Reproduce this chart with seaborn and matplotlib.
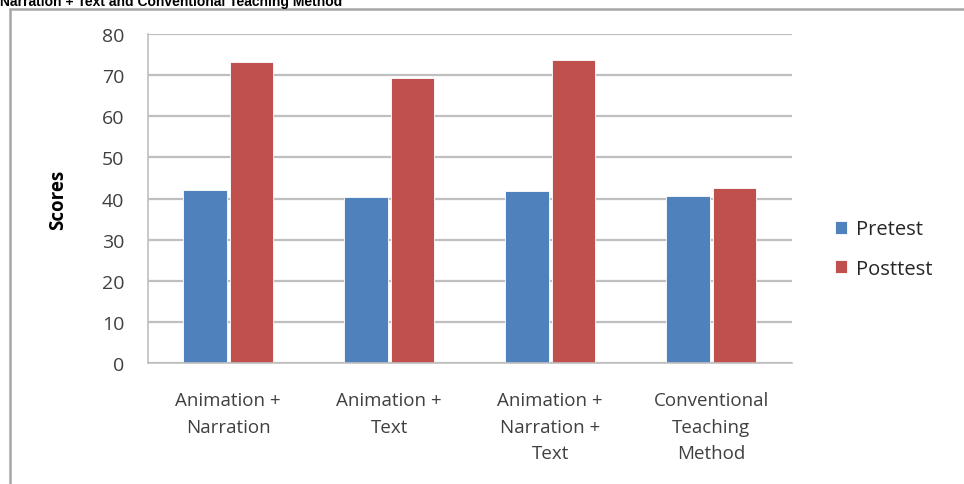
import matplotlib
matplotlib.use("Agg")
import matplotlib.pyplot as plt
from matplotlib.lines import Line2D
import seaborn as sns
import pandas as pd

categories = ["Animation +\nNarration", "Animation +\nText", "Animation +\nNarration +\nText", "Conventional\nTeaching\nMethod"]
pretest = [42.2, 40.3, 41.9, 40.7]
posttest = [73.1, 69.2, 73.7, 42.7]
series = ["Pretest", "Posttest"]
yticks = [0, 10, 20, 30, 40, 50, 60, 70, 80]
title = "Narration + Text and Conventional Teaching Method"

df = pd.DataFrame({
    "Category": categories * 2,
    "Score": pretest + posttest,
    "Series": [series[0]] * len(categories) + [series[1]] * len(categories),
})

sns.set_theme(style="white")
plt.rcParams['font.family'] = ['Open Sans', 'DejaVu Sans']

W, H = 964, 485
fig = plt.figure(figsize=(W / 100, H / 100), dpi=100)
ax = fig.add_axes([147.7 / W, 1 - 364.3 / H, (791.7 - 147.7) / W, (364.3 - 35) / H])

palette = {"Pretest": "#4F81BD", "Posttest": "#C0504D"}
sns.barplot(data=df, x="Category", y="Score", hue="Series", palette=palette,
            width=0.58, gap=0.06, ax=ax, saturation=1, edgecolor="white", linewidth=0.6, legend=True)

ax.set_ylim(0, 80)
ax.set_yticks(yticks)
ax.set_xlim(-0.5, 3.5)
ax.yaxis.grid(True, color="#BFBFBF", linewidth=1.6)
ax.set_axisbelow(True)
for s in ["top", "right"]:
    ax.spines[s].set_visible(False)
ax.spines["left"].set_color("#BFBFBF")
ax.spines["bottom"].set_color("#BFBFBF")
ax.spines["left"].set_linewidth(1.2)
ax.spines["bottom"].set_linewidth(1.2)
ax.tick_params(axis="y", labelsize=14, colors="#404040", length=0, pad=17)
ax.tick_params(axis="x", labelsize=13.5, colors="#404040", length=0, pad=20)
for lbl in ax.get_xticklabels():
    lbl.set_linespacing(1.62)
ax.set_xlabel("")
ax.set_ylabel("Scores", fontsize=13.5, fontweight="bold", color="black", labelpad=24)

handles, labels = ax.get_legend_handles_labels()
ax.legend(handles, labels, loc="center left", bbox_to_anchor=(817 / W, 1 - 250 / H),
          bbox_transform=fig.transFigure, frameon=False, fontsize=14.5,
          handlelength=0.6, handleheight=0.6, handletextpad=0.45, labelspacing=0.95,
          labelcolor="#262626")

# outer frame
fig.add_artist(Line2D([9.5 / W, 9.5 / W], [0, 1 - 10 / H], color="#A6A6A6", linewidth=1.8, transform=fig.transFigure))
fig.add_artist(Line2D([9.5 / W, 1], [1 - 10 / H, 1 - 10 / H], color="#A6A6A6", linewidth=1.8, transform=fig.transFigure))

fig.text(0.0, 1 - 6 / H, title, fontsize=10, fontweight="bold", family=["Liberation Sans", "DejaVu Sans"],
         ha="left", va="baseline", color="black")

fig.savefig("out.png", dpi=100)
